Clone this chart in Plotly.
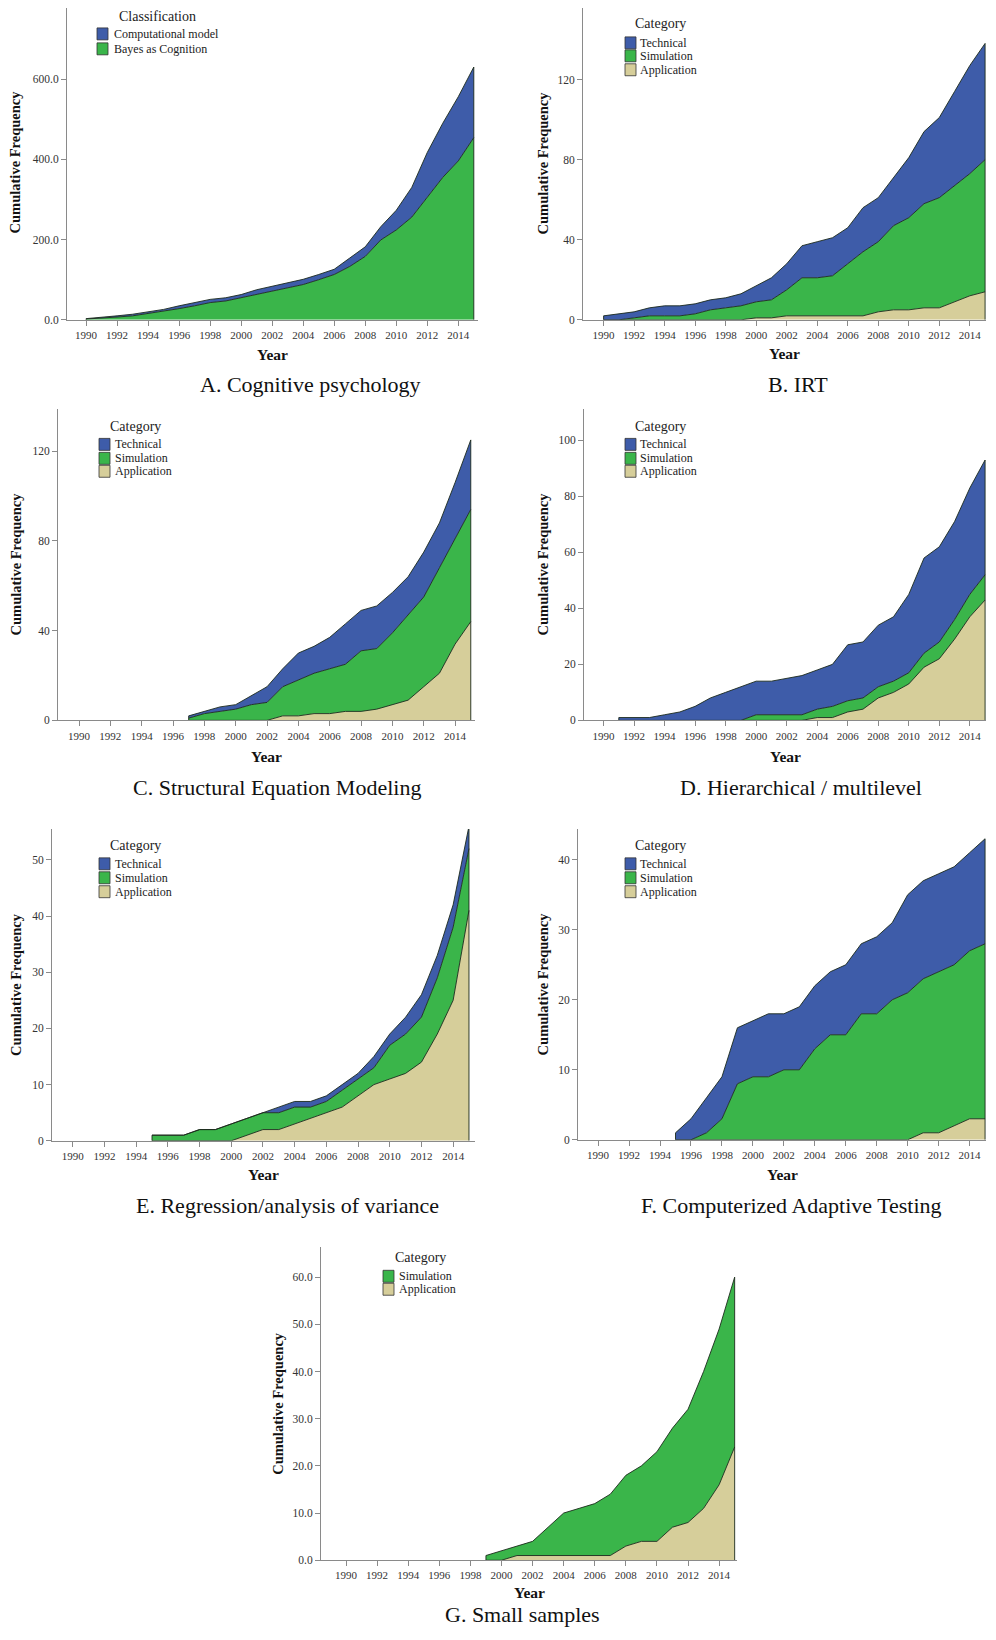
import plotly.graph_objects as go

# ---------------- data (cumulative frequencies) ----------------
years_A = list(range(1990, 2016))
A_bayes = [2, 4, 7, 10, 16, 21, 28, 35, 43, 47, 55, 63, 72, 80, 88, 100, 113, 133, 158, 199, 224, 256, 306, 355, 396, 454]
A_comp = [1, 2, 3, 4, 4, 5, 7, 8, 8, 8, 8, 12, 12, 12, 13, 13, 13, 21, 24, 33, 49, 74, 111, 135, 160, 176]

years_B = list(range(1990, 2016))
B_app = [0, 0, 0, 0, 0, 0, 0, 0, 0, 0, 1, 1, 2, 2, 2, 2, 2, 2, 4, 5, 5, 6, 6, 9, 12, 14]
B_sim = [0, 0, 1, 2, 2, 2, 3, 5, 6, 7, 8, 9, 13, 19, 19, 20, 26, 32, 35, 42, 46, 52, 55, 58, 61, 66]
B_tech = [2, 3, 3, 4, 5, 5, 5, 5, 5, 6, 8, 11, 13, 16, 18, 19, 18, 22, 22, 24, 30, 36, 40, 47, 54, 58]

years_C = list(range(1997, 2016))
C_app = [0, 0, 0, 0, 0, 0, 2, 2, 3, 3, 4, 4, 5, 7, 9, 15, 21, 34, 44]
C_sim = [1, 3, 4, 5, 7, 8, 13, 16, 18, 20, 21, 27, 27, 32, 38, 40, 47, 47, 50]
C_tech = [1, 1, 2, 2, 4, 7, 8, 12, 12, 14, 18, 18, 19, 18, 17, 20, 20, 25, 31]

years_D = list(range(1991, 2016))
D_app = [0, 0, 0, 0, 0, 0, 0, 0, 0, 0, 0, 0, 0, 1, 1, 3, 4, 8, 10, 13, 19, 22, 29, 37, 43]
D_sim = [0, 0, 0, 0, 0, 0, 0, 0, 0, 2, 2, 2, 2, 3, 4, 4, 4, 4, 4, 4, 5, 6, 7, 8, 9]
D_tech = [1, 1, 1, 2, 3, 5, 8, 10, 12, 12, 12, 13, 14, 14, 15, 20, 20, 22, 23, 28, 34, 34, 35, 38, 41]

years_E = list(range(1995, 2016))
E_app = [0, 0, 0, 0, 0, 0, 1, 2, 2, 3, 4, 5, 6, 8, 10, 11, 12, 14, 19, 25, 41]
E_sim = [1, 1, 1, 2, 2, 3, 3, 3, 3, 3, 2, 2, 3, 3, 3, 6, 7, 8, 10, 13, 11]
E_tech = [0, 0, 0, 0, 0, 0, 0, 0, 1, 1, 1, 1, 1, 1, 2, 2, 3, 4, 4, 4, 4]

years_F = list(range(1995, 2016))
F_app = [0, 0, 0, 0, 0, 0, 0, 0, 0, 0, 0, 0, 0, 0, 0, 0, 1, 1, 2, 3, 3]
F_sim = [0, 0, 1, 3, 8, 9, 9, 10, 10, 13, 15, 15, 18, 18, 20, 21, 22, 23, 23, 24, 25]
F_tech = [1, 3, 5, 6, 8, 8, 9, 8, 9, 9, 9, 10, 10, 11, 11, 14, 14, 14, 14, 14, 15]

years_G = list(range(1999, 2016))
G_app = [0, 0, 1, 1, 1, 1, 1, 1, 1, 3, 4, 4, 7, 8, 11, 16, 24]
G_sim = [1, 2, 2, 3, 6, 9, 10, 11, 13, 15, 16, 19, 21, 24, 29, 33, 36]

x_ticks = list(range(1990, 2015, 2))
yticks_A = [0, 200, 400, 600]
yticks_B = [0, 40, 80, 120]
yticks_C = [0, 40, 80, 120]
yticks_D = [0, 20, 40, 60, 80, 100]
yticks_E = [0, 10, 20, 30, 40, 50]
yticks_F = [0, 10, 20, 30, 40]
yticks_G = [0, 10, 20, 30, 40, 50, 60]

panel_titles = ["A. Cognitive psychology", "B. IRT", "C. Structural Equation Modeling",
                "D. Hierarchical / multilevel", "E. Regression/analysis of variance",
                "F. Computerized Adaptive Testing", "G. Small samples"]

# ---------------- styling ----------------
OFF = 8                      # default page margin around the plot div
W, H = 978, 1624             # figure size that stays inside the visible page
RIGHT = OFF + W              # rightmost page pixel available
BLUE = "#3e5ca9"
GREEN = "#3ab54a"
TAN = "#d6ce9a"
OUTLINE = "#1c2a1c"
AX = "#8a8a8a"
SERIF = "Liberation Serif, Times New Roman, serif"

series_colors = {"Technical": BLUE, "Simulation": GREEN, "Application": TAN,
                 "Computational model": BLUE, "Bayes as Cognition": GREEN}

# series listed bottom -> top ; positions are page pixels
panels = [
    dict(years=years_A, series=[("Bayes as Cognition", A_bayes), ("Computational model", A_comp)],
         legtitle="Classification", box=(67, 478, 5, 321), xr=(1988.77, 2015.27), ytop=777,
         yticks=yticks_A, yfmt=".1f", ytitle_x=15, year_y=356, title_xy=(310, 386),
         leg=dict(title=(157, 17), box=97, text=112, rows=[34, 49])),
    dict(years=years_B, series=[("Application", B_app), ("Simulation", B_sim), ("Technical", B_tech)],
         legtitle="Category", box=(583, RIGHT, 7, 321), xr=(1988.65, 2015.06), ytop=155.7,
         yticks=yticks_B, yfmt="d", ytitle_x=543, year_y=355, title_xy=(798, 386),
         leg=dict(title=(660, 24), box=625, text=638, rows=[43, 56, 70])),
    dict(years=years_C, series=[("Application", C_app), ("Simulation", C_sim), ("Technical", C_tech)],
         legtitle="Category", box=(58, 475, 410, 723), xr=(1988.66, 2015.27), ytop=139,
         yticks=yticks_C, yfmt="d", ytitle_x=16, year_y=759, title_xy=(277, 790),
         leg=dict(title=(135, 428), box=99, text=113, rows=[446, 460, 473])),
    dict(years=years_D, series=[("Application", D_app), ("Simulation", D_sim), ("Technical", D_tech)],
         legtitle="Category", box=(584, RIGHT, 410, 723), xr=(1988.72, 2015.06), ytop=111.4,
         yticks=yticks_D, yfmt="d", ytitle_x=543, year_y=759, title_xy=(801, 790),
         leg=dict(title=(660, 428), box=625, text=638, rows=[446, 460, 473])),
    dict(years=years_E, series=[("Application", E_app), ("Simulation", E_sim), ("Technical", E_tech)],
         legtitle="Category", box=(52, 475, 832, 1145), xr=(1988.69, 2015.38), ytop=55.5,
         yticks=yticks_E, yfmt="d", ytitle_x=16, year_y=1179, title_xy=(287, 1210),
         leg=dict(title=(135, 849), box=99, text=113, rows=[867, 881, 895])),
    dict(years=years_F, series=[("Application", F_app), ("Simulation", F_sim), ("Technical", F_tech)],
         legtitle="Category", box=(578, RIGHT, 832, 1144), xr=(1988.7, 2015.06), ytop=44.4,
         yticks=yticks_F, yfmt="d", ytitle_x=543, year_y=1179, title_xy=(791, 1210),
         leg=dict(title=(660, 849), box=625, text=638, rows=[867, 881, 895])),
    dict(years=years_G, series=[("Application", G_app), ("Simulation", G_sim)],
         legtitle="Category", box=(321, 737, 1252, 1566), xr=(1988.39, 2015.15), ytop=66.3,
         yticks=yticks_G, yfmt=".1f", ytitle_x=278, year_y=1598, title_xy=(522, 1620),
         leg=dict(title=(420, 1262), box=383, text=397, rows=[1281, 1294])),
]


def pxx(x):
    return (x - OFF) / W


def pxy(y):
    return 1 - (y - OFF) / H


fig = go.Figure()
annotations = []
shapes = []
layout = {}

for i, p in enumerate(panels):
    n = "" if i == 0 else str(i + 1)
    xa, ya = "x" + n, "y" + n
    yrs = p["years"]
    for name, vals in p["series"]:
        fig.add_trace(go.Scatter(
            x=yrs, y=vals, name=name, stackgroup="g" + str(i), mode="lines",
            line=dict(color=OUTLINE, width=0.9), fillcolor=series_colors[name],
            xaxis=xa, yaxis=ya, showlegend=False, hoverinfo="x+y+name"))
    totals = [sum(v[k] for _, v in p["series"]) for k in range(len(yrs))]
    for k in (0, -1):
        fig.add_trace(go.Scatter(
            x=[yrs[k], yrs[k]], y=[0, totals[k]], mode="lines",
            line=dict(color=OUTLINE, width=0.9), xaxis=xa, yaxis=ya,
            showlegend=False, hoverinfo="skip"))

    x0, x1, y0, y1 = p["box"]
    layout["xaxis" + n] = dict(
        domain=[max(0, pxx(x0)), min(1, pxx(x1))], range=list(p["xr"]), anchor=ya,
        tickvals=x_ticks, ticks="outside", ticklen=5, tickcolor=AX, tickwidth=1,
        showline=True, linecolor=AX, linewidth=1, showgrid=False, zeroline=False,
        tickfont=dict(family=SERIF, size=11, color="#333333"), fixedrange=True)
    layout["yaxis" + n] = dict(
        domain=[max(0, pxy(y1)), min(1, pxy(y0))], range=[0, p["ytop"]], anchor=xa,
        tickvals=p["yticks"], tickformat=p["yfmt"], ticks="outside", ticklen=5,
        tickcolor=AX, tickwidth=1, showline=True, linecolor=AX, linewidth=1,
        showgrid=False, zeroline=False,
        tickfont=dict(family=SERIF, size=11.5, color="#333333"), fixedrange=True)

    # axis titles
    annotations.append(dict(
        text="<b>Cumulative Frequency</b>", x=pxx(p["ytitle_x"]), y=pxy((y0 + y1) / 2),
        xref="paper", yref="paper", textangle=-90, showarrow=False,
        xanchor="center", yanchor="middle", font=dict(family=SERIF, size=14.5, color="#111111")))
    annotations.append(dict(
        text="<b>Year</b>", x=pxx((x0 + x1) / 2), y=pxy(p["year_y"]),
        xref="paper", yref="paper", showarrow=False, xanchor="center", yanchor="middle",
        font=dict(family=SERIF, size=15.5, color="#111111")))
    # panel title
    tx, ty = p["title_xy"]
    annotations.append(dict(
        text=panel_titles[i], x=pxx(tx), y=pxy(ty), xref="paper", yref="paper",
        showarrow=False, xanchor="center", yanchor="middle",
        font=dict(family=SERIF, size=22, color="#111111")))

    # legend
    leg = p["leg"]
    annotations.append(dict(
        text=p["legtitle"], x=pxx(leg["title"][0]), y=pxy(leg["title"][1]),
        xref="paper", yref="paper", showarrow=False, xanchor="center", yanchor="middle",
        font=dict(family=SERIF, size=14, color="#222222")))
    names_top_down = [nm for nm, _ in p["series"]][::-1]
    for nm, ry in zip(names_top_down, leg["rows"]):
        shapes.append(dict(
            type="rect", xref="paper", yref="paper",
            x0=pxx(leg["box"]), x1=pxx(leg["box"] + 11),
            y0=pxy(ry + 6), y1=pxy(ry - 6),
            fillcolor=series_colors[nm], line=dict(color="#333333", width=0.8)))
        annotations.append(dict(
            text=nm, x=pxx(leg["text"]), y=pxy(ry), xref="paper", yref="paper",
            showarrow=False, xanchor="left", yanchor="middle",
            font=dict(family=SERIF, size=12, color="#222222")))

fig.update_layout(
    width=W, height=H, autosize=False,
    margin=dict(l=0, r=0, t=0, b=0),
    paper_bgcolor="white", plot_bgcolor="white",
    showlegend=False, annotations=annotations, shapes=shapes,
    **layout)

fig.write_html("out.html")
